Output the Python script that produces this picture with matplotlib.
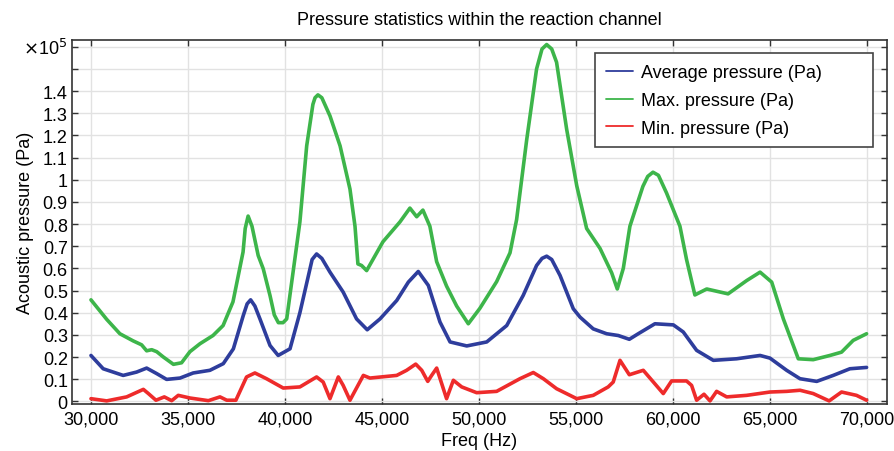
import numpy as np
import matplotlib.pyplot as plt

plt.rcParams['font.family'] = ['Liberation Sans', 'DejaVu Sans']

# Frequency (Hz) and pressure values (in units of 1e5 Pa)
freq_max = [30000, 30810, 31490, 32170, 32610, 32870, 33130, 33390, 33730, 34250, 34670,
            35100, 35620, 36290, 36810, 37320, 37840, 37950, 38100, 38300, 38620, 38880,
            39230, 39450, 39660, 39900, 40090, 40770, 41120, 41440, 41550, 41700, 41900,
            42320, 42840, 43350, 43610, 43760, 43950, 44210, 45050, 45930, 46440, 46790,
            47110, 47470, 47820, 48330, 48850, 49450, 50050, 50910, 51600, 51940, 52460,
            52970, 53250, 53490, 53750, 54000, 54520, 55040, 55550, 56240, 56840, 57130,
            57440, 57780, 58450, 58700, 58970, 59250, 59670, 60360, 60700, 61130, 61740,
            62840, 63800, 64490, 65090, 65690, 66460, 67230, 68090, 68690, 69290, 69980]
p_max = [0.458, 0.37, 0.305, 0.273, 0.255, 0.228, 0.233, 0.224, 0.20, 0.167, 0.174,
         0.224, 0.26, 0.297, 0.342, 0.449, 0.674, 0.78, 0.836, 0.79, 0.658, 0.598,
         0.477, 0.39, 0.355, 0.355, 0.372, 0.81, 1.153, 1.34, 1.37, 1.383, 1.37,
         1.288, 1.153, 0.958, 0.79, 0.62, 0.613, 0.59, 0.72, 0.81, 0.872, 0.833,
         0.863, 0.79, 0.63, 0.52, 0.43, 0.35, 0.42, 0.54, 0.67, 0.82, 1.18,
         1.50, 1.59, 1.61, 1.59, 1.53, 1.228, 0.973, 0.78, 0.69, 0.58, 0.507,
         0.60, 0.79, 0.97, 1.015, 1.034, 1.02, 0.94, 0.79, 0.64, 0.48, 0.507,
         0.485, 0.545, 0.583, 0.538, 0.372, 0.192, 0.188, 0.207, 0.222, 0.275, 0.305]

freq_avg = [30000, 30630, 31660, 32350, 32870, 33390, 33900, 34590, 35270, 36130, 36820,
            37340, 37850, 38050, 38230, 38450, 38710, 39230, 39650, 40260, 40770, 41400,
            41630, 41900, 42320, 43000, 43690, 44240, 44900, 45760, 46360, 46870, 47390,
            47990, 48510, 49370, 50400, 51430, 52280, 52970, 53250, 53490, 53750, 54180,
            54860, 55210, 55890, 56580, 57180, 57750, 58210, 59070, 60020, 60530, 61220,
            62080, 63280, 64490, 65000, 65860, 66550, 67410, 68260, 69120, 69980]
p_avg = [0.207, 0.147, 0.117, 0.132, 0.15, 0.125, 0.099, 0.105, 0.128, 0.14, 0.17,
         0.237, 0.387, 0.44, 0.458, 0.43, 0.372, 0.252, 0.207, 0.237, 0.40, 0.64,
         0.665, 0.645, 0.583, 0.493, 0.372, 0.323, 0.372, 0.455, 0.538, 0.586, 0.523,
         0.358, 0.268, 0.25, 0.268, 0.342, 0.478, 0.613, 0.645, 0.655, 0.64, 0.568,
         0.418, 0.38, 0.327, 0.305, 0.297, 0.28, 0.305, 0.35, 0.345, 0.313, 0.23,
         0.185, 0.192, 0.207, 0.195, 0.14, 0.102, 0.09, 0.117, 0.147, 0.153]

freq_min = [30000, 30810, 31840, 32700, 32960, 33350, 33780, 34160, 34500, 35100, 36050,
            36650, 37000, 37470, 38020, 38450, 39050, 39910, 40770, 41630, 41970, 42320,
            42750, 43000, 43350, 44040, 44380, 45760, 46270, 46740, 47050, 47360, 47560,
            47820, 48330, 48680, 49110, 49880, 50910, 52110, 52800, 53320, 54000, 55040,
            55890, 56660, 56920, 57270, 57750, 58470, 58990, 59500, 59930, 60700, 60960,
            61220, 61600, 61910, 62250, 62770, 63800, 65000, 65860, 66550, 67230, 68050,
            68690, 69460, 69980]
p_min = [0.012, 0.002, 0.02, 0.054, 0.035, 0.005, 0.02, 0.003, 0.027, 0.015, 0.003,
         0.02, 0.005, 0.005, 0.11, 0.128, 0.102, 0.06, 0.065, 0.11, 0.087, 0.012,
         0.11, 0.072, 0.005, 0.117, 0.105, 0.117, 0.14, 0.168, 0.14, 0.09, 0.117,
         0.15, 0.012, 0.095, 0.065, 0.039, 0.045, 0.102, 0.13, 0.102, 0.057, 0.012,
         0.027, 0.065, 0.087, 0.185, 0.12, 0.14, 0.087, 0.035, 0.092, 0.092, 0.072,
         0.005, 0.032, 0.002, 0.045, 0.02, 0.027, 0.042, 0.045, 0.05, 0.035, 0.002,
         0.042, 0.027, 0.005]

x_ticks = [30000, 35000, 40000, 45000, 50000, 55000, 60000, 65000, 70000]

fs = 13.0
fig = plt.figure(figsize=(8.95, 4.52), dpi=100)
ax = fig.add_axes([0.0804, 0.104, 0.9106, 0.806])

kw = dict(lw=2.6, solid_joinstyle='round', solid_capstyle='round')
ax.plot(freq_avg, p_avg, color='#2e3d9c', label='Average pressure (Pa)', **kw)
ax.plot(freq_max, p_max, color='#3db54a', label='Max. pressure (Pa)', **kw)
ax.plot(freq_min, p_min, color='#ee2b2b', label='Min. pressure (Pa)', **kw)

ax.set_xlim(29020, 71030)
ax.set_ylim(-0.012, 1.632)

ax.set_xticks(x_ticks)
ax.set_xticklabels([f'{v:,}' for v in x_ticks])
yt = np.round(np.arange(0, 1.61, 0.1), 1)
ax.set_yticks(yt)
ylabels = []
for v in yt:
    if v >= 1.45:
        ylabels.append('')
    elif v == 0:
        ylabels.append('0')
    elif v == 1.0:
        ylabels.append('1')
    else:
        ylabels.append(f'{v:.1f}')
ax.set_yticklabels(ylabels)
ax.text(-0.006, 0.978, r'$\times$10$^5$', transform=ax.transAxes, ha='right', va='center',
        fontsize=fs)

ax.tick_params(direction='in', top=True, right=True, labelsize=fs, length=4, width=1,
               color='#333333')
ax.tick_params(axis='x', pad=5)
ax.tick_params(axis='y', pad=3)
ax.grid(True, color='#e2e2e2', lw=1)
ax.set_axisbelow(True)
for s in ax.spines.values():
    s.set_color('#333333')
    s.set_linewidth(1.2)

ax.set_title('Pressure statistics within the reaction channel', fontsize=fs, pad=11)
ax.set_xlabel('Freq (Hz)', fontsize=fs, labelpad=3)
ax.set_ylabel('Acoustic pressure (Pa)', fontsize=fs, labelpad=6)

leg = ax.legend(loc='upper left', bbox_to_anchor=(0.642, 0.705, 0.341, 0.258), mode='expand',
                fontsize=fs, fancybox=False, edgecolor='#444444', framealpha=1,
                handlelength=1.5, handletextpad=0.45, borderpad=0.6, labelspacing=0.6,
                borderaxespad=0)
leg.get_frame().set_linewidth(1.2)
for line in leg.get_lines():
    line.set_linewidth(1.3)

fig.savefig('out.png', dpi=100)
